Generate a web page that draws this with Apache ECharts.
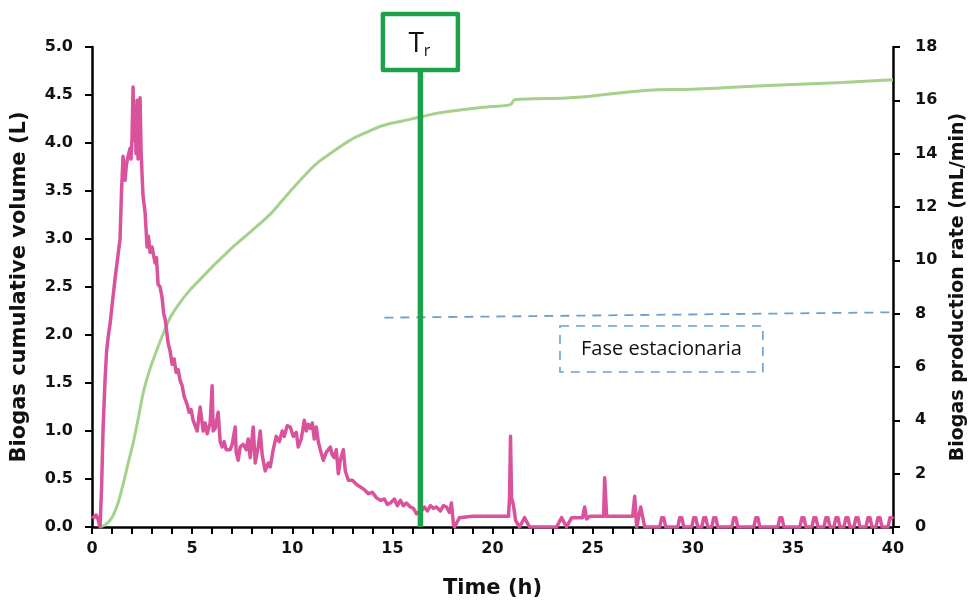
<!DOCTYPE html>
<html>
<head>
<meta charset="utf-8">
<script src="https://cdn.jsdelivr.net/npm/echarts@6/dist/echarts.min.js"></script>
<style>html,body{margin:0;padding:0;background:#fff}#c{width:969px;height:602px}</style>
</head>
<body>
<div id="c"></div>
<script>
// Cumulative biogas volume (L) vs time (h), left axis
var cumulativeVolume = [
  [0.4,0],[0.7,0.03],[1.0,0.1],[1.3,0.25],[1.56,0.45],[1.8,0.66],[2.06,0.88],[2.3,1.12],[2.56,1.4],
  [2.9,1.65],[3.23,1.84],[3.55,2.01],[3.9,2.18],[4.4,2.34],[4.9,2.47],[5.5,2.6],[6.0,2.71],[6.55,2.82],
  [7.0,2.91],[7.5,3.0],[8.0,3.09],[8.5,3.18],[9.0,3.28],[9.5,3.4],[10.0,3.52],[10.7,3.68],[11.3,3.8],[11.9,3.89],
  [12.9,4.03],[13.7,4.11],[14.5,4.18],[15.5,4.23],[16.4,4.27],[17.0,4.3],[17.9,4.33],[19.0,4.36],[20.0,4.38],
  [20.9,4.40],[21.1,4.45],[22.0,4.46],[23.7,4.47],[25.0,4.49],[26.3,4.52],[27.8,4.55],[30.0,4.56],[32.0,4.58],
  [35.0,4.61],[37.5,4.63],[40.0,4.66]
];

// Biogas production rate (mL/min) vs time (h), right axis
var rateStartup = [
  [0.0,0.4],[0.1,0.35],[0.2,0.45],[0.3,0.3],[0.4,0.0],[0.48,1.5],[0.55,3.6],[0.65,5.5],[0.73,6.6],[0.82,7.2],
  [0.9,7.6],[1.0,8.3],[1.15,9.3],[1.3,10.2],[1.4,10.8],[1.47,12.5],[1.55,13.9],[1.65,13.0],[1.72,13.6],[1.8,13.9],
  [1.9,14.2],[1.95,13.8],[2.0,14.6],[2.05,16.5],[2.1,14.5],[2.15,15.8],[2.2,14.0],[2.25,16.0],[2.3,13.8],[2.35,15.0],
  [2.4,16.1],[2.45,14.1],[2.5,13.2],[2.55,12.4],[2.65,11.8],[2.75,10.5],[2.82,10.9],[2.9,10.3],[3.0,10.5],[3.15,9.9],
  [3.22,10.1],[3.3,9.1],[3.4,9.0],[3.5,8.6],[3.58,8.0],[3.65,7.8],[3.72,7.4],[3.8,6.9],[3.9,6.6],[4.0,6.1],
  [4.1,6.3],[4.2,5.8],[4.3,5.9],[4.4,5.5],[4.5,5.3],[4.6,4.9],[4.75,4.6],[4.85,4.3],[4.95,4.4],[5.05,4.0]
];
var rateDecline = [
  [5.15,3.8],[5.25,3.6],[5.4,4.5],[5.55,3.6],[5.65,3.9],[5.75,3.5],[5.9,3.9],[6.0,5.3],[6.05,3.6],[6.15,3.7],
  [6.3,4.3],[6.4,3.2],[6.5,3.0],[6.6,3.2],[6.7,2.9],[6.9,2.9],[7.0,3.1],[7.15,3.75],[7.2,2.8],[7.3,2.5],
  [7.4,3.0],[7.55,3.1],[7.7,2.9],[7.8,3.3],[7.9,2.6],[8.05,3.75],[8.15,2.4],[8.3,3.0],[8.4,3.6],[8.5,2.7],
  [8.65,2.1],[8.8,2.4],[8.9,2.25],[9.05,2.9],[9.2,3.4],[9.35,3.2],[9.5,3.6],[9.6,3.4],[9.75,3.8],[9.9,3.75],
  [10.05,3.4],[10.2,3.55],[10.3,3.0],[10.45,3.3],[10.6,4.0],[10.7,3.6],[10.8,3.85],[10.9,3.7],[11.0,3.9],[11.1,3.3],
  [11.2,3.75],[11.3,3.2],[11.4,2.9],[11.55,2.5],[11.7,2.8],[11.9,3.0],[12.0,2.7],[12.1,2.6],[12.2,2.9],[12.3,2.0],
  [12.4,2.5],[12.55,2.9],[12.65,2.1],[12.8,1.75],[13.0,1.75],[13.2,1.6],[13.4,1.5],[13.6,1.4],[13.8,1.25],[14.0,1.3],
  [14.2,1.1],[14.4,1.0],[14.6,1.05],[14.75,0.85],[14.9,0.9],[15.1,1.05],[15.25,0.8],[15.4,1.0],[15.55,0.8],[15.7,0.9],
  [15.9,0.75],[16.05,0.7],[16.2,0.5],[16.45,0.6],[16.6,0.75],[16.75,0.6],[16.9,0.8],[17.05,0.7],[17.2,0.75],[17.4,0.6],
  [17.55,0.8],[17.7,0.75],[17.85,0.55],[17.95,0.9],[18.05,0.1],[18.1,0.0]
];
var rateStationary = [
  [18.35,0.35],[19.0,0.4],[20.0,0.4],[20.8,0.4],[20.85,1.1],[20.9,3.4],[20.95,1.1],[21.05,0.8],[21.15,0.25],[21.35,0.0],
  [21.6,0.35],[21.85,0.0],[23.2,0.0],[23.45,0.35],[23.7,0.0],[23.95,0.35],[24.5,0.35],[24.6,0.75],[24.7,0.3],[24.85,0.4],
  [25.55,0.4],[25.6,1.85],[25.7,0.4],[27.0,0.4],[27.1,1.15],[27.2,0.0],[27.4,0.75],[27.6,0.0],
  [28.35,0.0],[28.45,0.35],[28.55,0.35],[28.65,0.0],[29.25,0.0],[29.35,0.35],[29.45,0.35],[29.55,0.0],
  [29.95,0.0],[30.05,0.35],[30.15,0.35],[30.25,0.0],[30.45,0.0],[30.55,0.35],[30.65,0.35],[30.75,0.0],
  [30.95,0.0],[31.05,0.35],[31.15,0.35],[31.25,0.0],[31.95,0.0],[32.05,0.35],[32.15,0.35],[32.25,0.0],
  [33.05,0.0],[33.15,0.35],[33.25,0.35],[33.35,0.0],[34.25,0.0],[34.35,0.35],[34.45,0.35],[34.55,0.0],
  [35.35,0.0],[35.45,0.35],[35.55,0.35],[35.65,0.0],[35.95,0.0],[36.05,0.35],[36.15,0.35],[36.25,0.0],
  [36.55,0.0],[36.65,0.35],[36.75,0.35],[36.85,0.0],[37.05,0.0],[37.15,0.35],[37.25,0.35],[37.35,0.0],
  [37.55,0.0],[37.65,0.35],[37.75,0.35],[37.85,0.0],[38.05,0.0],[38.15,0.35],[38.25,0.35],[38.35,0.0],
  [38.65,0.0],[38.75,0.35],[38.85,0.35],[38.95,0.0],[39.15,0.0],[39.25,0.35],[39.35,0.35],[39.45,0.0],
  [39.75,0.0],[39.85,0.35],[39.95,0.35],[40.0,0.3]
];

// Annotations
var trTime = 16.4;            // Tr marker (h)
var trTop = 4.76;             // top of the marker line (L axis)
var phaseLine = [[14.6,7.85],[40,8.05]];    // dashed line (right axis)
var phaseBoxTime = [23.37, 33.5];
var phaseBoxRate = [5.81, 7.54];
var phaseLabel = 'Fase estacionaria';

// Axis ranges / tick steps
var xRange = [0, 40], xStep = 5;
var leftRange = [0, 5], leftStep = 0.5;
var rightRange = [0, 18], rightStep = 2;

var axisFont = 'DejaVu Sans';
var chart = echarts.init(document.getElementById('c'));
var option = {
  animation: false,
  backgroundColor: '#fff',
  grid: {left: 92, right: 76, top: 47, bottom: 75, containLabel: false, outerBoundsMode: 'none'},
  xAxis: {
    type: 'value', min: xRange[0], max: xRange[1], interval: xStep,
    name: 'Time (h)', nameLocation: 'middle', nameGap: 51,
    nameTextStyle: {fontFamily: axisFont, fontWeight: 'bold', fontSize: 21, color: '#111'},
    axisLine: {lineStyle: {color: '#000', width: 2.5}},
    axisTick: {show: true, inside: false, length: 7, lineStyle: {color: '#000', width: 2}},
    minorTick: {show: true, splitNumber: 5, length: 7, lineStyle: {color: '#000', width: 2}},
    splitLine: {show: false},
    axisLabel: {fontFamily: axisFont, fontWeight: 'bold', fontSize: 16, color: '#111', margin: 14}
  },
  yAxis: [{
    type: 'value', min: leftRange[0], max: leftRange[1], interval: leftStep, position: 'left',
    name: 'Biogas cumulative volume (L)', nameLocation: 'middle', nameGap: 62,
    nameTextStyle: {fontFamily: axisFont, fontWeight: 'bold', fontSize: 21, color: '#111'},
    axisLine: {show: true, lineStyle: {color: '#000', width: 2.5}},
    axisTick: {show: true, length: 7, lineStyle: {color: '#000', width: 2}},
    splitLine: {show: false},
    axisLabel: {fontFamily: axisFont, fontWeight: 'bold', fontSize: 16, color: '#111', margin: 19,
      formatter: function(v){ return v.toFixed(1); }}
  }, {
    type: 'value', min: rightRange[0], max: rightRange[1], interval: rightStep, position: 'right',
    name: 'Biogas production rate (mL/min)', nameLocation: 'middle', nameGap: 50,
    nameTextStyle: {fontFamily: axisFont, fontWeight: 'bold', fontSize: 19, color: '#111'},
    axisLine: {show: true, lineStyle: {color: '#000', width: 2.5}},
    axisTick: {show: true, length: 7, lineStyle: {color: '#000', width: 2}},
    splitLine: {show: false},
    axisLabel: {fontFamily: axisFont, fontWeight: 'bold', fontSize: 16, color: '#111', margin: 22}
  }],
  series: [{
    name: 'Production rate', type: 'line', yAxisIndex: 1,
    data: rateStartup.concat(rateDecline, rateStationary),
    showSymbol: false, symbol: 'none', z: 3,
    lineStyle: {color: '#d9529b', width: 3.5, join: 'round'}
  }, {
    name: 'Cumulative volume', type: 'line', yAxisIndex: 0, data: cumulativeVolume,
    showSymbol: false, symbol: 'none', smooth: 0.3, z: 2,
    lineStyle: {color: '#a6d18c', width: 3}
  }, {
    name: 'Phase line', type: 'line', yAxisIndex: 1, data: phaseLine,
    showSymbol: false, symbol: 'none', z: 1,
    lineStyle: {color: '#6b9fd2', width: 1.8, type: [9, 7]}
  }, {
    name: 'Tr', type: 'line', yAxisIndex: 0, data: [[trTime, 0], [trTime, trTop]],
    showSymbol: false, symbol: 'none', z: 4,
    lineStyle: {color: '#1fa04b', width: 5.5}
  }]
};
chart.setOption(option);

var topPt = chart.convertToPixel({gridIndex: 0}, [trTime, trTop]);
var b1 = chart.convertToPixel({xAxisIndex: 0, yAxisIndex: 1}, [phaseBoxTime[0], phaseBoxRate[1]]);
var b2 = chart.convertToPixel({xAxisIndex: 0, yAxisIndex: 1}, [phaseBoxTime[1], phaseBoxRate[0]]);
var bw = 75, bh = 56;
chart.setOption({
  graphic: [{
    type: 'rect', z: 10,
    shape: {x: topPt[0] - bw/2, y: topPt[1] - bh, width: bw, height: bh},
    style: {fill: '#fff', stroke: '#1fa04b', lineWidth: 4.5, lineJoin: 'round'}
  }, {
    type: 'text', z: 11, x: topPt[0] - 1, y: topPt[1] - bh/2 + 2,
    style: {
      text: '{t|T}{s|r}', align: 'center', verticalAlign: 'middle',
      rich: {
        t: {fontFamily: 'Open Sans', fontSize: 28, fill: '#111', verticalAlign: 'middle'},
        s: {fontFamily: 'Open Sans', fontSize: 16, fill: '#111', padding: [14, 0, 0, 0]}
      }
    }
  }, {
    type: 'rect', z: 10,
    shape: {x: b1[0], y: b1[1], width: b2[0] - b1[0], height: b2[1] - b1[1]},
    style: {fill: '#fff', stroke: '#6b9fd2', lineWidth: 1.6, lineDash: [9, 7]}
  }, {
    type: 'text', z: 11, x: (b1[0] + b2[0]) / 2, y: (b1[1] + b2[1]) / 2,
    style: {text: phaseLabel, fontFamily: 'Open Sans', fontSize: 20, fill: '#111',
      align: 'center', verticalAlign: 'middle'}
  }]
});
</script>
</body>
</html>
